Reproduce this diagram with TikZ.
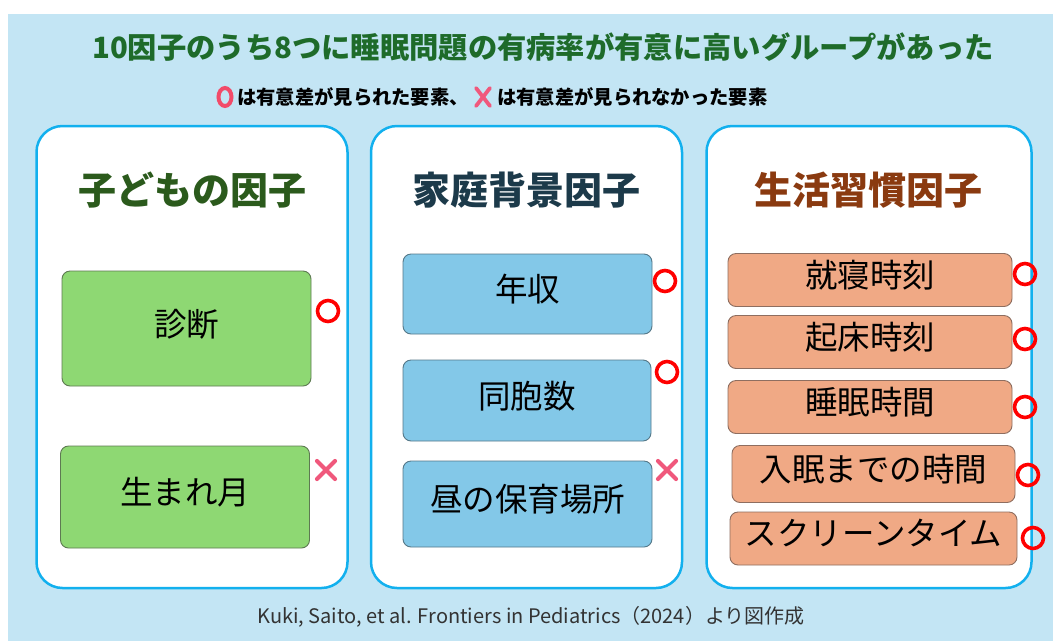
\documentclass[tikz,border=0pt]{standalone}
\usepackage{fontspec}
\usetikzlibrary{shapes.geometric}
\setmainfont{Noto Sans CJK JP}
\definecolor{bgblue}{HTML}{C3E5F4}
\definecolor{panelline}{HTML}{12B0EE}
\definecolor{gfill}{HTML}{8ED873}
\definecolor{gline}{HTML}{5E7A52}
\definecolor{bfill}{HTML}{83C8E8}
\definecolor{bline}{HTML}{557888}
\definecolor{ofill}{HTML}{F0A985}
\definecolor{oline}{HTML}{8E6E60}
\definecolor{titlegreen}{HTML}{1E6B2A}
\definecolor{t1col}{HTML}{2B5A1C}
\definecolor{t2col}{HTML}{1C3A4A}
\definecolor{t3col}{HTML}{8A3A10}
\definecolor{okred}{HTML}{FF0000}
\definecolor{ngpink}{HTML}{F0587C}
\definecolor{citecol}{HTML}{333333}
\tikzset{
  panel/.style={draw=panelline, line width=2.5pt, fill=white, rounded corners=26pt, inner sep=0pt},
  itembox/.style={rounded corners=8pt, line width=0.9pt, inner sep=0pt, text depth=12pt, font=\fontsize{32.5}{37}\selectfont, text=black},
  gbox/.style={itembox, draw=gline, fill=gfill},
  bbox/.style={itembox, draw=bline, fill=bfill},
  obox/.style={itembox, draw=oline, fill=ofill},
  ptitle/.style={font=\bfseries\fontsize{38}{44}\selectfont, inner sep=0pt},
  okmark/.style={circle, draw=okred, line width=3.6pt, minimum size=21pt, inner sep=0pt},
  ngmark/.style={draw=ngpink, line width=4.2pt, line cap=round},
  subtext/.style={font=\bfseries\fontsize{19.3}{22}\selectfont, inner sep=0pt, anchor=west},
}
\begin{document}
\begin{tikzpicture}[x=1pt, y=-1pt]
\useasboundingbox (0,0) rectangle (1053,641);
\fill[white] (0,0) rectangle (1053,641);
\fill[bgblue] (8,14) rectangle (1053,641);

% main title
\node[font=\bfseries\fontsize{29.3}{33}\selectfont, text=titlegreen, inner sep=0pt] (title) at (543,47) {10因子のうち8つに睡眠問題の有病率が有意に高いグループがあった};

% legend line
\node[ellipse, draw=ngpink!85!red, line width=4pt, minimum width=13pt, minimum height=18pt, inner sep=0pt] (lok) at (225,97) {};
\node[subtext] (lt1) at (237,97) {は有意差が見られた要素、};
\coordinate (lng) at (483,97);
\draw[ngmark, line width=3.8pt] (lng) +(-7,-9) -- +(7,9) (lng) +(-7,9) -- +(7,-9);
\node[subtext] (lt2) at (497,97) {は有意差が見られなかった要素};

% panels
\node[panel, minimum width=311pt, minimum height=462pt] (p1) at (192,357) {};
\node[panel, minimum width=311pt, minimum height=462pt] (p2) at (526.5,357) {};
\node[panel, minimum width=325pt, minimum height=462pt] (p3) at (869,357) {};

\node[ptitle, text=t1col] (t1) at (192,190) {子どもの因子};
\node[ptitle, text=t2col] (t2) at (526,190) {家庭背景因子};
\node[ptitle, text=t3col] (t3) at (868,190) {生活習慣因子};

% panel 1 items
\node[gbox, minimum width=249pt, minimum height=115pt] (a1) at (186.5,328.5) {診断};
\node[gbox, minimum width=249pt, minimum height=102pt] (a2) at (185,497) {生まれ月};
\node[okmark] (ma1) at (328,311) {};
\coordinate (ma2) at (326,470);
\draw[ngmark] (ma2) +(-9,-9) -- +(9,9) (ma2) +(-9,9) -- +(9,-9);

% panel 2 items
\node[bbox, minimum width=249pt, minimum height=80pt] (b1) at (527.5,294) {年収};
\node[bbox, minimum width=248pt, minimum height=81pt] (b2) at (527,400.5) {同胞数};
\node[bbox, minimum width=249pt, minimum height=86pt] (b3) at (527.5,504) {昼の保育場所};
\node[okmark] (mb1) at (665,281) {};
\node[okmark] (mb2) at (667,372) {};
\coordinate (mb3) at (667,470);
\draw[ngmark] (mb3) +(-9,-9) -- +(9,9) (mb3) +(-9,9) -- +(9,-9);

% panel 3 items
\node[obox, minimum width=284pt, minimum height=53pt] (c1) at (870,280) {就寝時刻};
\node[obox, minimum width=284pt, minimum height=53pt] (c2) at (870,342) {起床時刻};
\node[obox, minimum width=284pt, minimum height=53pt] (c3) at (870,407) {睡眠時間};
\node[obox, minimum width=283pt, minimum height=57pt] (c4) at (873.5,474) {入眠までの時間};
\node[obox, minimum width=287pt, minimum height=53pt] (c5) at (873.5,538.5) {スクリーンタイム};
\node[okmark] (mc1) at (1025,274) {};
\node[okmark] (mc2) at (1025,339) {};
\node[okmark] (mc3) at (1025,407) {};
\node[okmark] (mc4) at (1028,475) {};
\node[okmark] (mc5) at (1033,538) {};

% citation
\node[font=\fontsize{20}{24}\selectfont, text=citecol, inner sep=0pt] (cite) at (531,617) {Kuki, Saito, et al. Frontiers in Pediatrics（2024）より図作成};
\end{tikzpicture}
\end{document}
